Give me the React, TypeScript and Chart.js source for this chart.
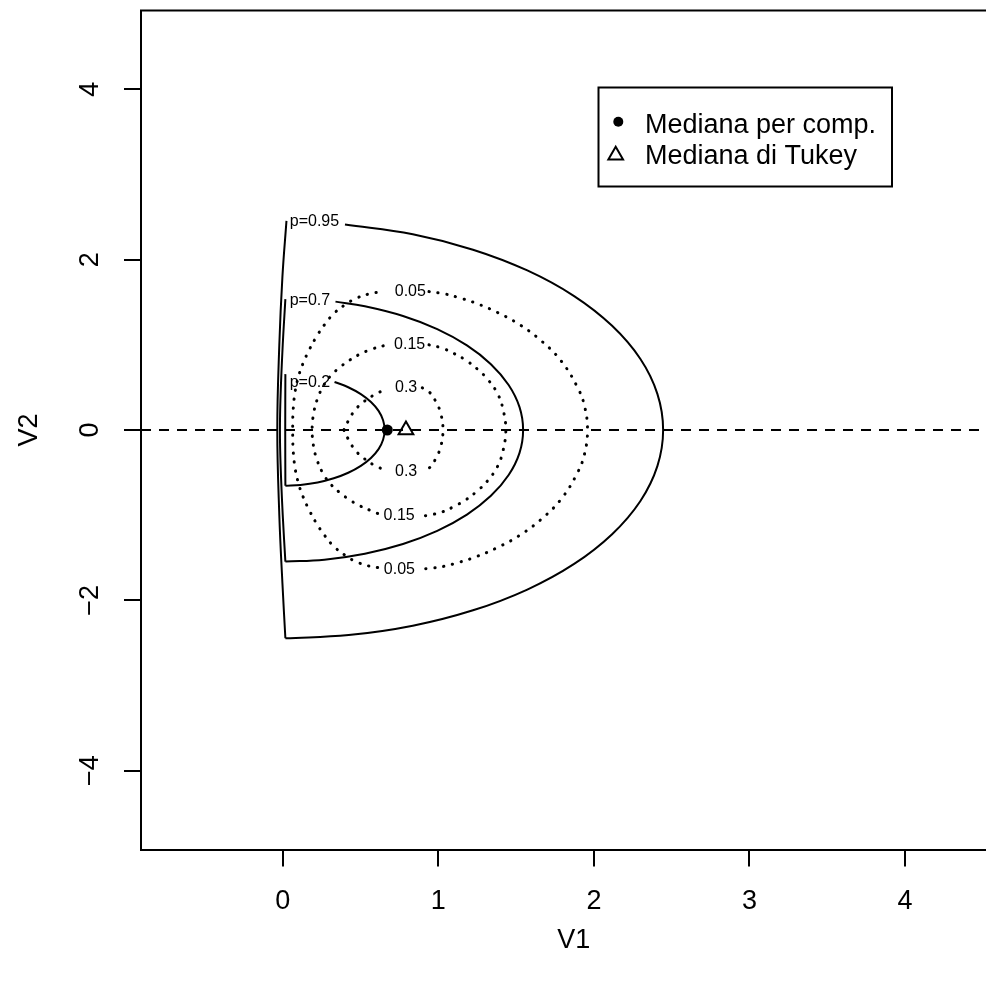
import React, { useEffect, useRef } from 'react';
import { Chart, registerables } from 'chart.js';

Chart.register(...registerables);

const FONT = '"Liberation Sans", Arial, Helvetica, sans-serif';

// Axes
const xTicks = [0, 1, 2, 3, 4];
const yTicks = [-4, -2, 0, 2, 4];
const xMin = -0.911;
const xMax = 4.652;
const yMin = -4.925;
const yMax = 4.925;
const xTitle = 'V1';
const yTitle = 'V2';

// Solid contours (p = 0.95, 0.7, 0.2): arc part and near-vertical left side
const p95ArcX = [0.40, 0.836, 1.223, 1.572, 1.873, 2.117, 2.298, 2.408, 2.445, 2.408, 2.298, 2.117, 1.873, 1.572, 1.223, 0.836, 0.424, 0.017];
const p95ArcY = [2.412, 2.298, 2.117, 1.873, 1.572, 1.223, 0.836, 0.424, 0, -0.424, -0.836, -1.223, -1.572, -1.873, -2.117, -2.298, -2.408, -2.445];
const p95SideX = [0.017, -0.002, -0.022, -0.035, -0.022, -0.002, 0.024];
const p95SideY = [-2.445, -1.8, -1.0, 0, 1.0, 1.8, 2.455];

const p7ArcX = [0.339, 0.528, 0.773, 0.993, 1.184, 1.338, 1.452, 1.522, 1.545, 1.522, 1.452, 1.338, 1.184, 0.993, 0.773, 0.528, 0.268, 0.017];
const p7ArcY = [1.507, 1.452, 1.338, 1.184, 0.993, 0.773, 0.528, 0.268, 0, -0.268, -0.528, -0.773, -0.993, -1.184, -1.338, -1.452, -1.522, -1.545];
const p7SideX = [0.017, 0.0, -0.014, -0.018, -0.014, 0.0, 0.017];
const p7SideY = [-1.545, -1.0, -0.4, 0, 0.4, 1.0, 1.536];

const p2ArcX = [0.333, 0.421, 0.502, 0.567, 0.616, 0.645, 0.655, 0.645, 0.616, 0.567, 0.502, 0.421, 0.328, 0.224, 0.114, 0.017];
const p2ArcY = [0.564, 0.502, 0.421, 0.328, 0.224, 0.114, 0, -0.114, -0.224, -0.328, -0.421, -0.502, -0.567, -0.616, -0.645, -0.655];
const p2SideX = [0.017, 0.016, 0.017];
const p2SideY = [-0.655, 0, 0.656];

// Dotted density contours (0.05, 0.15, 0.3), split at their labels
const c05LeftX = [0.61, 0.55, 0.47, 0.4, 0.33, 0.27, 0.215, 0.17, 0.13, 0.1, 0.077, 0.066, 0.064, 0.066, 0.077, 0.1, 0.13, 0.17, 0.215, 0.27, 0.33, 0.4, 0.47, 0.55, 0.64];
const c05LeftY = [-1.615, -1.595, -1.545, -1.47, -1.37, -1.24, -1.09, -0.94, -0.78, -0.62, -0.42, -0.2, 0, 0.2, 0.42, 0.62, 0.78, 0.94, 1.09, 1.24, 1.37, 1.47, 1.545, 1.595, 1.625];
const c05RightX = [0.94, 1.036, 1.13, 1.24, 1.38, 1.52, 1.66, 1.79, 1.895, 1.94, 1.959, 1.94, 1.895, 1.79, 1.66, 1.52, 1.38, 1.24, 1.13, 1.036, 0.94, 0.89];
const c05RightY = [1.625, 1.6, 1.555, 1.49, 1.38, 1.24, 1.05, 0.81, 0.5, 0.28, 0, -0.28, -0.5, -0.81, -1.05, -1.24, -1.38, -1.49, -1.555, -1.6, -1.625, -1.63];

const c15LeftX = [0.61, 0.565, 0.49, 0.43, 0.37, 0.31, 0.262, 0.222, 0.198, 0.189, 0.198, 0.222, 0.262, 0.31, 0.37, 0.43, 0.49, 0.565, 0.65];
const c15LeftY = [-0.98, -0.945, -0.885, -0.82, -0.74, -0.64, -0.52, -0.36, -0.19, 0, 0.19, 0.36, 0.52, 0.64, 0.74, 0.82, 0.885, 0.945, 0.99];
const c15RightX = [0.94, 1.026, 1.101, 1.176, 1.251, 1.316, 1.38, 1.415, 1.434, 1.415, 1.38, 1.316, 1.251, 1.176, 1.101, 1.026, 0.94, 0.89];
const c15RightY = [1.0, 0.961, 0.898, 0.821, 0.715, 0.598, 0.43, 0.25, 0, -0.25, -0.43, -0.598, -0.715, -0.821, -0.898, -0.961, -1.0, -1.01];

const c3TopLeftX = [0.393, 0.425, 0.465, 0.52, 0.585, 0.66];
const c3TopLeftY = [0, 0.12, 0.235, 0.33, 0.41, 0.478];
const c3BottomLeftX = [0.393, 0.425, 0.465, 0.52, 0.585, 0.67];
const c3BottomLeftY = [0, -0.12, -0.235, -0.33, -0.41, -0.48];
const c3RightX = [0.897, 0.945, 0.985, 1.015, 1.03, 1.015, 0.985, 0.945, 0.897];
const c3RightY = [0.495, 0.44, 0.33, 0.2, 0, -0.2, -0.33, -0.44, -0.485];

// Reference line V2 = 0
const refLineX = [xMin, xMax];
const refLineY = [0, 0];

// Medians
const seriesLabels = ['Mediana per comp.', 'Mediana di Tukey'];
const medianCompX = [0.672];
const medianCompY = [0];
const medianTukeyX = [0.792];
const medianTukeyY = [0];

// Contour labels
const contourLabelText = ['p=0.95', 'p=0.7', 'p=0.2', '0.05', '0.15', '0.3', '0.3', '0.15', '0.05'];
const contourLabelX = [0.204, 0.175, 0.175, 0.82, 0.816, 0.793, 0.793, 0.748, 0.75];
const contourLabelY = [2.442, 1.516, 0.555, 1.625, 1.008, 0.499, -0.485, -1.005, -1.641];

const pts = (xs: number[], ys: number[]) => xs.map((x, i) => ({ x, y: ys[i] }));

const solid = (xs: number[], ys: number[]) => ({
  type: 'scatter' as const,
  data: pts(xs, ys),
  showLine: true,
  borderColor: '#000',
  borderWidth: 2,
  pointRadius: 0,
  tension: 0.4,
  fill: false,
});

const dotted = (xs: number[], ys: number[]) => ({
  ...solid(xs, ys),
  borderWidth: 3,
  borderDash: [0.3, 8.7],
  borderCapStyle: 'round' as const,
});

const drawTriangle = (ctx: CanvasRenderingContext2D, x: number, y: number, r: number) => {
  ctx.beginPath();
  ctx.moveTo(x, y - r);
  ctx.lineTo(x + r * 0.866, y + r * 0.5);
  ctx.lineTo(x - r * 0.866, y + r * 0.5);
  ctx.closePath();
  ctx.fillStyle = '#fff';
  ctx.fill();
  ctx.strokeStyle = '#000';
  ctx.lineWidth = 2;
  ctx.stroke();
};

const decorPlugin = {
  id: 'decor',
  afterDraw(chart: any) {
    const { ctx, chartArea, scales } = chart;
    const xs = scales.x;
    const ys = scales.y;
    ctx.save();
    // top border of the box
    ctx.strokeStyle = '#000';
    ctx.lineWidth = 2;
    ctx.beginPath();
    ctx.moveTo(chartArea.left - 1, chartArea.top);
    ctx.lineTo(chartArea.right, chartArea.top);
    ctx.stroke();

    ctx.fillStyle = '#000';
    ctx.font = `27px ${FONT}`;
    ctx.textAlign = 'center';
    ctx.textBaseline = 'middle';
    // x tick labels
    xs.ticks.forEach((t: any) => {
      ctx.fillText(String(t.value), xs.getPixelForValue(t.value), chartArea.bottom + 52);
    });
    // y tick labels (rotated)
    ys.ticks.forEach((t: any) => {
      const py = ys.getPixelForValue(t.value);
      const lab = t.value < 0 ? '\u2212' + Math.abs(t.value) : String(t.value);
      ctx.save();
      ctx.translate(chartArea.left - 50, py);
      ctx.rotate(-Math.PI / 2);
      ctx.fillText(lab, 0, 0);
      ctx.restore();
    });
    // axis titles
    ctx.fillText(xTitle, (chartArea.left + chartArea.right) / 2, chartArea.bottom + 91);
    ctx.save();
    ctx.translate(30, (chartArea.top + chartArea.bottom) / 2);
    ctx.rotate(-Math.PI / 2);
    ctx.fillText(yTitle, 0, 0);
    ctx.restore();

    // contour labels
    ctx.font = `16px ${FONT}`;
    contourLabelText.forEach((txt, i) => {
      ctx.fillText(txt, xs.getPixelForValue(contourLabelX[i]), ys.getPixelForValue(contourLabelY[i]));
    });

    // legend
    ctx.lineWidth = 2;
    ctx.strokeStyle = '#000';
    ctx.strokeRect(598.5, 87.5, 293.5, 99);
    ctx.beginPath();
    ctx.arc(618.3, 121.7, 5, 0, Math.PI * 2);
    ctx.fillStyle = '#000';
    ctx.fill();
    drawTriangle(ctx, 615.7, 155.3, 8.5);
    ctx.fillStyle = '#000';
    ctx.font = `27px ${FONT}`;
    ctx.textAlign = 'left';
    ctx.textBaseline = 'alphabetic';
    ctx.fillText(seriesLabels[0], 645, 132.5);
    ctx.fillText(seriesLabels[1], 645, 164);
    ctx.restore();
  },
};

export default function App() {
  const ref = useRef<HTMLCanvasElement>(null);
  useEffect(() => {
    const canvas = ref.current;
    if (!canvas) return;
    const datasets: any[] = [
      {
        type: 'scatter',
        data: pts(refLineX, refLineY),
        showLine: true,
        borderColor: '#000',
        borderWidth: 2,
        borderDash: [10, 8],
        pointRadius: 0,
        tension: 0,
      },
      solid(p95ArcX, p95ArcY),
      solid(p95SideX, p95SideY),
      solid(p7ArcX, p7ArcY),
      solid(p7SideX, p7SideY),
      solid(p2ArcX, p2ArcY),
      solid(p2SideX, p2SideY),
      dotted(c05LeftX, c05LeftY),
      dotted(c05RightX, c05RightY),
      dotted(c15LeftX, c15LeftY),
      dotted(c15RightX, c15RightY),
      dotted(c3TopLeftX, c3TopLeftY),
      dotted(c3BottomLeftX, c3BottomLeftY),
      dotted(c3RightX, c3RightY),
      {
        type: 'scatter',
        label: seriesLabels[0],
        data: pts(medianCompX, medianCompY),
        pointStyle: 'circle',
        pointRadius: 5.5,
        pointBackgroundColor: '#000',
        pointBorderColor: '#000',
        pointBorderWidth: 0,
        showLine: false,
      },
      {
        type: 'scatter',
        label: seriesLabels[1],
        data: pts(medianTukeyX, medianTukeyY),
        pointStyle: 'triangle',
        pointRadius: 8.5,
        pointBackgroundColor: '#fff',
        pointBorderColor: '#000',
        pointBorderWidth: 2,
        showLine: false,
      },
    ];
    const chart = new Chart(canvas, {
      type: 'scatter',
      data: { datasets },
      options: {
        responsive: false,
        animation: false,
        devicePixelRatio: 1,
        events: [],
        layout: { padding: { top: 9, left: 0, right: 0, bottom: 0 } },
        plugins: { legend: { display: false }, tooltip: { enabled: false } },
        scales: {
          x: {
            type: 'linear',
            min: xMin,
            max: xMax,
            afterBuildTicks: (s: any) => {
              s.ticks = xTicks.map((v) => ({ value: v }));
            },
            afterFit: (s: any) => {
              s.height = 133.5;
            },
            ticks: { display: false },
            grid: { drawOnChartArea: false, drawTicks: true, tickLength: 17, color: '#000', lineWidth: 2 },
            border: { display: true, color: '#000', width: 2 },
          },
          y: {
            type: 'linear',
            min: yMin,
            max: yMax,
            afterBuildTicks: (s: any) => {
              s.ticks = yTicks.map((v) => ({ value: v }));
            },
            afterFit: (s: any) => {
              s.width = 141;
            },
            ticks: { display: false },
            grid: { drawOnChartArea: false, drawTicks: true, tickLength: 17, color: '#000', lineWidth: 2 },
            border: { display: true, color: '#000', width: 2 },
          },
        },
      } as any,
      plugins: [decorPlugin],
    });
    return () => chart.destroy();
  }, []);
  return (
    <div style={{ position: 'absolute', left: 0, top: 0, width: 986, height: 983, overflow: 'hidden', background: '#fff' }}>
      <canvas ref={ref} width={1017} height={983} style={{ display: 'block' }} />
    </div>
  );
}
